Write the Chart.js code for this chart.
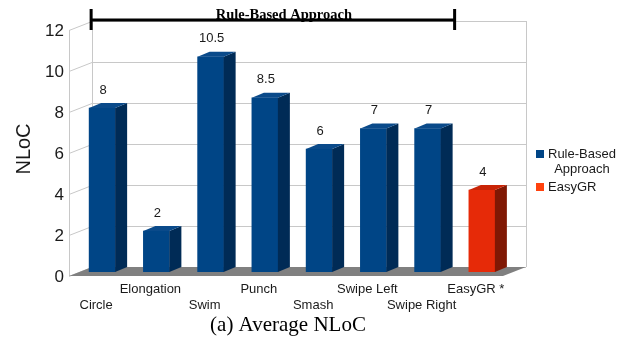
<!DOCTYPE html>
<html>
<head>
<meta charset="utf-8">
<script src="https://cdn.jsdelivr.net/npm/chart.js@4.4.0/dist/chart.umd.min.js"></script>
<style>
  html, body { margin: 0; padding: 0; background: #fff; }
</style>
</head>
<body>
<canvas id="nlocChart" width="626" height="342"></canvas>
<script>
// Average NLoC per gesture
const categories = ["Circle", "Elongation", "Swim", "Punch", "Smash", "Swipe Left", "Swipe Right", "EasyGR *"];
const ruleBasedValues = [8, 2, 10.5, 8.5, 6, 7, 7, null];
const easyGRValues = [null, null, null, null, null, null, null, 4];
const yTicks = [0, 2, 4, 6, 8, 10, 12];
const legendLines = [["Rule-Based", "Approach"], ["EasyGR"]];

const SANS = "'Liberation Sans', Arial, sans-serif";
const SERIF = "'Liberation Serif', 'Times New Roman', serif";

// 3d box geometry, offsets from the plane the bars are drawn in
const BAR_DX = 12, BAR_DY = -5;
const FRONT = { dx: -6, dy: 4 };
const BACK = { dx: 17, dy: -5 };

function poly(ctx, pts, fill) {
  ctx.beginPath();
  ctx.moveTo(pts[0][0], pts[0][1]);
  for (let i = 1; i < pts.length; i++) ctx.lineTo(pts[i][0], pts[i][1]);
  ctx.closePath();
  ctx.fillStyle = fill;
  ctx.fill();
}

const box3d = {
  id: "box3d",
  beforeDatasetsDraw(chart) {
    const { ctx, chartArea: a, scales: { y } } = chart;
    const fl = a.left + FRONT.dx, fr = a.right + FRONT.dx;
    const bl = a.left + BACK.dx, br = a.right + BACK.dx;
    const y0 = y.getPixelForValue(0);
    const yTop = y.getPixelForValue(yTicks[yTicks.length - 1]);

    ctx.save();
    ctx.strokeStyle = "#c8c8c8";
    ctx.lineWidth = 1;
    ctx.beginPath();
    yTicks.forEach(v => {
      const py = Math.round(y.getPixelForValue(v)) + 0.5;
      ctx.moveTo(fl, py + FRONT.dy);
      ctx.lineTo(bl, py + BACK.dy);
      ctx.lineTo(br, py + BACK.dy);
    });
    // wall edges
    ctx.moveTo(fl + 0.5, yTop + FRONT.dy);
    ctx.lineTo(fl + 0.5, y0 + FRONT.dy);
    ctx.moveTo(bl + 0.5, yTop + BACK.dy);
    ctx.lineTo(bl + 0.5, y0 + BACK.dy);
    ctx.moveTo(br + 0.5, yTop + BACK.dy);
    ctx.lineTo(br + 0.5, y0 + BACK.dy);
    ctx.stroke();

    // floor
    poly(ctx, [[fl, y0 + FRONT.dy], [fr, y0 + FRONT.dy], [br, y0 + BACK.dy], [bl, y0 + BACK.dy]], "#808080");
    ctx.restore();
  },
  afterDatasetsDraw(chart) {
    const { ctx } = chart;
    ctx.save();
    chart.data.datasets.forEach((ds, di) => {
      const meta = chart.getDatasetMeta(di);
      meta.data.forEach((bar, i) => {
        if (ds.data[i] == null) return;
        const { x, y, base, width } = bar.getProps(["x", "y", "base", "width"], true);
        const l = x - width / 2, r = x + width / 2;
        poly(ctx, [[r, y], [r + BAR_DX, y + BAR_DY], [r + BAR_DX, base + BAR_DY], [r, base]], ds.sideColor);
        poly(ctx, [[l, y], [l + BAR_DX, y + BAR_DY], [r + BAR_DX, y + BAR_DY], [r, y]], ds.topColor);

        ctx.fillStyle = "#1a1a1a";
        ctx.font = "13px " + SANS;
        ctx.textAlign = "center";
        ctx.textBaseline = "middle";
        ctx.fillText(String(ds.data[i]), x + 1, y - 18);
      });
    });
    ctx.restore();
  },
  afterDraw(chart) {
    const { ctx, chartArea: a, scales: { x } } = chart;
    ctx.save();

    // bracket over the rule-based gestures
    const x1 = x.getPixelForValue(0) - 11;
    const x2 = x.getPixelForValue(6) + 27;
    const ly = a.top - 6;
    ctx.strokeStyle = "#000";
    ctx.lineWidth = 3;
    ctx.beginPath();
    ctx.moveTo(x1, ly);
    ctx.lineTo(x2, ly);
    ctx.moveTo(x1, ly - 11);
    ctx.lineTo(x1, ly + 10);
    ctx.moveTo(x2, ly - 11);
    ctx.lineTo(x2, ly + 10);
    ctx.stroke();
    ctx.fillStyle = "#000";
    ctx.font = "bold 14.5px " + SERIF;
    ctx.textAlign = "center";
    ctx.textBaseline = "alphabetic";
    ctx.fillText("Rule-Based Approach", (x1 + x2) / 2 + 11, ly - 1);

    // legend
    const lx = a.right + 27;
    let ty = 154;
    chart.data.datasets.forEach((ds, di) => {
      const lines = legendLines[di];
      ctx.fillStyle = ds.legendColor;
      ctx.fillRect(lx, ty - 4, 8, 8);
      ctx.fillStyle = "#1a1a1a";
      ctx.font = "13px " + SANS;
      ctx.textBaseline = "middle";
      ctx.textAlign = "left";
      ctx.fillText(lines[0], lx + 12, ty);
      const w0 = ctx.measureText(lines[0]).width;
      for (let k = 1; k < lines.length; k++) {
        ty += 15;
        ctx.textAlign = "center";
        ctx.fillText(lines[k], lx + 12 + w0 / 2, ty);
      }
      ty += 18;
    });

    // caption
    ctx.fillStyle = "#000";
    ctx.font = "21px " + SERIF;
    ctx.textAlign = "center";
    ctx.textBaseline = "middle";
    ctx.fillText("(a) Average NLoC", 288, 325);
    ctx.restore();
  }
};

new Chart(document.getElementById("nlocChart"), {
  type: "bar",
  data: {
    labels: categories,
    datasets: [
      {
        label: "Rule-Based Approach",
        data: ruleBasedValues,
        backgroundColor: "#004586",
        sideColor: "#002b56",
        topColor: "#0a4a8a",
        legendColor: "#004586",
        grouped: false,
        barThickness: 26
      },
      {
        label: "EasyGR",
        data: easyGRValues,
        backgroundColor: "#e62a08",
        sideColor: "#801804",
        topColor: "#c92406",
        legendColor: "#ff420e",
        grouped: false,
        barThickness: 26
      }
    ]
  },
  options: {
    responsive: false,
    animation: false,
    devicePixelRatio: 1,
    layout: { padding: { left: 0, right: 117, top: 26, bottom: 30 } },
    plugins: {
      legend: { display: false },
      tooltip: { enabled: false }
    },
    scales: {
      x: {
        grid: { display: false, drawTicks: false },
        border: { display: false },
        afterFit(scale) { scale.height = 40; },
        ticks: {
          autoSkip: false,
          maxRotation: 0,
          padding: 10,
          labelOffset: -6,
          color: "#1a1a1a",
          font: { family: SANS, size: 13, lineHeight: 1.2 },
          callback(value, i) {
            const name = categories[i];
            return i % 2 ? [name, ""] : ["", name];
          }
        }
      },
      y: {
        min: 0,
        max: 12,
        grid: { display: false, drawTicks: false },
        border: { display: false },
        afterFit(scale) { scale.width = 75; },
        ticks: {
          stepSize: 2,
          padding: 11,
          labelOffset: 5,
          color: "#1a1a1a",
          font: { family: SANS, size: 17 }
        },
        title: {
          display: true,
          text: "NLoC",
          color: "#1a1a1a",
          font: { family: SANS, size: 20 },
          padding: { top: 12, bottom: 0 }
        }
      }
    }
  },
  plugins: [box3d]
});
</script>
</body>
</html>
